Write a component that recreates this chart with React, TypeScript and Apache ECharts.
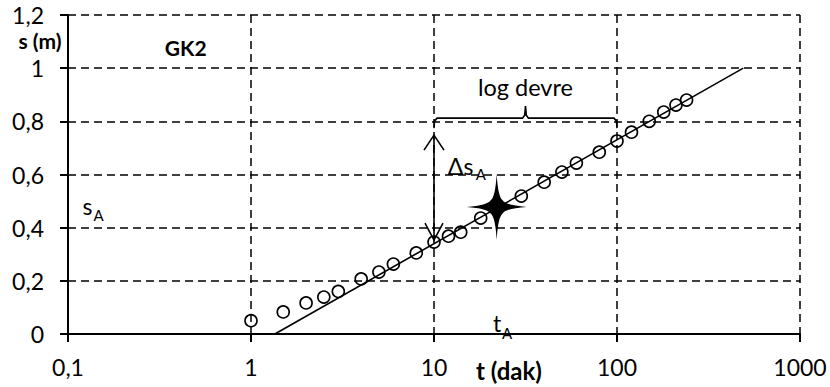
import React, { useEffect, useRef } from "react";
import * as echarts from "echarts";

// Tick values
const xTickValues = [0.1, 1, 10, 100, 1000];
const yTickValues = [0, 0.2, 0.4, 0.6, 0.8, 1, 1.2];

// Measured drawdown data (t in minutes, s in metres)
const timeMin = [1, 1.5, 2, 2.5, 3, 4, 5, 6, 8, 10, 12, 14, 18, 30, 40, 50, 60, 80, 100, 120, 150, 180, 210, 240];
const drawdown = [0.05, 0.083, 0.117, 0.139, 0.16, 0.207, 0.233, 0.263, 0.305, 0.346, 0.368, 0.383, 0.436, 0.519, 0.571, 0.609, 0.643, 0.684, 0.726, 0.759, 0.8, 0.835, 0.861, 0.88];

// Straight-line fit (Cooper-Jacob)
const fitT = [1.35, 490];
const fitS = [0, 1.0];

// Reference point (star)
const starT = [22];
const starS = [0.478];

// Annotation anchors (data space)
const braceT = [10, 100];
const braceS = 0.812;
const arrowT = 10;
const arrowS = [0.748, 0.353];

const FONT = 'Lato, "Open Sans", "DejaVu Sans", sans-serif';

const fmtNum = (v: number) => {
  const r = Math.round(v * 1000) / 1000;
  return String(r).replace(".", ",");
};

const STAR =
  "path://M0,-10 Q0.45,-3 2,-2 Q3,-0.45 10,0 Q3,0.45 2,2 Q0.45,3 0,10 Q-0.45,3 -2,2 Q-3,0.45 -10,0 Q-3,-0.45 -2,-2 Q-0.45,-3 0,-10 Z";

export default function App() {
  const ref = useRef<HTMLDivElement>(null);

  useEffect(() => {
    document.body.style.margin = "0";
    const chart = echarts.init(ref.current!, null, { renderer: "svg" });
    const splitLine = { show: true, lineStyle: { color: "#000", type: [8, 5], width: 1.5 } };
    const axisLine = { show: true, onZero: false, lineStyle: { color: "#000", width: 2 } };
    const axisTick = { show: true, length: 8, lineStyle: { color: "#000", width: 2 } };

    chart.setOption({
      animation: false,
      backgroundColor: "#fff",
      grid: { left: 68, right: 30, top: 15, bottom: 53, outerBoundsMode: "none" },
      xAxis: {
        type: "log",
        logBase: 10,
        min: xTickValues[0],
        max: xTickValues[xTickValues.length - 1],
        axisLine,
        axisTick,
        minorTick: { show: false },
        splitLine,
        axisLabel: { color: "#000", fontSize: 23, fontFamily: FONT, margin: 21, formatter: (v: number) => fmtNum(v), showMinLabel: true, showMaxLabel: true },
      },
      yAxis: {
        type: "value",
        min: yTickValues[0],
        max: yTickValues[yTickValues.length - 1],
        interval: 0.2,
        axisLine,
        axisTick,
        splitLine,
        axisLabel: { color: "#000", fontSize: 23, fontFamily: FONT, margin: 24, formatter: (v: number) => fmtNum(v) },
      },
      series: [
        {
          type: "line",
          data: fitT.map((t, i) => [t, fitS[i]]),
          symbol: "none",
          lineStyle: { color: "#000", width: 1.6 },
          z: 2,
        },
        {
          type: "scatter",
          data: timeMin.map((t, i) => [t, drawdown[i]]),
          symbol: "circle",
          symbolSize: 12,
          itemStyle: { color: "rgba(255,255,255,0)", borderColor: "#000", borderWidth: 1.6, opacity: 1 },
          z: 3,
        },
        {
          type: "scatter",
          data: starT.map((t, i) => [t, starS[i]]),
          symbol: STAR,
          symbolSize: [60, 66],
          itemStyle: { color: "#000", opacity: 1 },
          z: 4,
        },
      ],
    });

    const px = (t: number, s: number) => chart.convertToPixel({ gridIndex: 0 }, [t, s]) as number[];
    const [xl, yb] = px(braceT[0], braceS);
    const [xr] = px(braceT[1], braceS);
    const xm = (xl + xr) / 2;
    const [ax, aTop] = px(arrowT, arrowS[0]);
    const [, aBot] = px(arrowT, arrowS[1]);
    const ld = px(31.62, 0.929);
    const ds = px(11.9, 0.632);
    const sa = px(0.12, 0.48);
    const ta = px(21, 0.04);
    const gk = px(0.44, 1.079);

    const line = { stroke: "#000", lineWidth: 1.6, fill: null };
    const txt = (x: number, y: number, text: string, size: number, opts: any = {}) => ({
      type: "text",
      x,
      y,
      style: { text, fill: "#000", font: `${opts.bold ? "bold " : ""}${size}px ${FONT}`, align: opts.align || "left", verticalAlign: "middle" },
      z: 10,
    });

    chart.setOption({
      graphic: [
        {
          type: "polyline",
          shape: {
            points: [
              [xl, yb + 10], [xl + 0.5, yb + 3], [xl + 3, yb], [xm - 3, yb], [xm - 0.8, yb - 3], [xm, yb - 12],
              [xm + 0.8, yb - 3], [xm + 3, yb], [xr - 3, yb], [xr - 0.5, yb + 3], [xr, yb + 10],
            ],
          },
          style: line,
          z: 10,
        },
        { type: "line", shape: { x1: ax, y1: aTop, x2: ax, y2: aBot }, style: line, z: 10 },
        { type: "polyline", shape: { points: [[ax - 10, aTop + 15], [ax, aTop], [ax + 10, aTop + 15]] }, style: line, z: 10 },
        { type: "polyline", shape: { points: [[ax - 9, aBot - 17], [ax, aBot], [ax + 9, aBot - 17]] }, style: line, z: 10 },
        txt(ld[0], ld[1], "log devre", 23.5, { align: "center" }),
        txt(ds[0], ds[1], "Δs", 23),
        txt(ds[0] + 28, ds[1] + 8, "A", 15),
        txt(sa[0], sa[1], "s", 23),
        txt(sa[0] + 11, sa[1] + 9, "A", 15),
        txt(ta[0], ta[1], "t", 23),
        txt(ta[0] + 9, ta[1] + 10, "A", 15),
        txt(gk[0], gk[1], "GK2", 21, { align: "center", bold: true }),
        txt(40, 40, "s (m)", 21, { align: "center", bold: true }),
        txt(509, 370, "t (dak)", 24, { align: "center", bold: true }),
      ],
    });

    return () => chart.dispose();
  }, []);

  return <div ref={ref} style={{ width: 830, height: 387 }} />;
}
